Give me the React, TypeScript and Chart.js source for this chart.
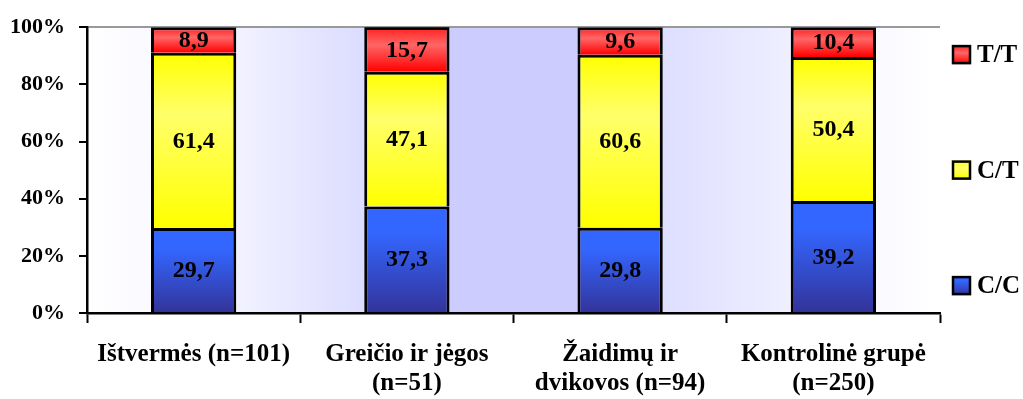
import { useEffect, useRef } from 'react';
import { Chart, registerables } from 'chart.js';

Chart.register(...registerables);

// Groups on the category axis (multi-line labels as arrays)
const categories: (string | string[])[] = [
  'Ištvermės (n=101)',
  ['Greičio ir jėgos', '(n=51)'],
  ['Žaidimų ir', 'dvikovos (n=94)'],
  ['Kontrolinė grupė', '(n=250)'],
];

// Genotype shares, % of each group
const seriesNames = ['C/C', 'C/T', 'T/T'];
const ccValues = [29.7, 37.3, 29.8, 39.2];
const ctValues = [61.4, 47.1, 60.6, 50.4];
const ttValues = [8.9, 15.7, 9.6, 10.4];

// Percentage axis
const yMin = 0;
const yMax = 100;
const yStep = 20;

const FONT = "'Liberation Serif', 'Times New Roman', serif";

type Stop = [number, string];
const seriesStops: Stop[][] = [
  [[0, '#3366FF'], [0.25, '#3366FF'], [1, '#333399']],
  [[0, '#FFFF00'], [0.35, '#FFFF6A'], [1, '#FFFF00']],
  [[0, '#FF1E1E'], [0.4, '#FF6666'], [1, '#FF0000']],
];

const bgStops: Stop[] = [
  [0, '#FFFFFF'],
  [0.08, '#F9F9FF'],
  [0.175, '#F2F2FF'],
  [0.324, '#DCDCFF'],
  [0.42, '#CCCCFF'],
  [0.58, '#CCCCFF'],
  [0.675, '#DEDEFF'],
  [0.824, '#EFEFFF'],
  [0.925, '#FAFAFF'],
  [1, '#FFFFFF'],
];

function vGradient(ctx: CanvasRenderingContext2D, yTop: number, yBottom: number, stops: Stop[]) {
  if (!Number.isFinite(yTop) || !Number.isFinite(yBottom)) return stops[0][1];
  const g = ctx.createLinearGradient(0, yTop, 0, yBottom === yTop ? yTop + 1 : yBottom);
  stops.forEach(([o, c]) => g.addColorStop(o, c));
  return g;
}

const backgroundPlugin = {
  id: 'plotBackground',
  beforeDraw(chart: any) {
    const { ctx, chartArea: a } = chart;
    if (!a) return;
    const g = ctx.createLinearGradient(a.left, 0, a.right, 0);
    bgStops.forEach(([o, c]) => g.addColorStop(o, c));
    ctx.save();
    ctx.fillStyle = g;
    ctx.fillRect(a.left, a.top, a.right - a.left, a.bottom - a.top);
    ctx.restore();
  },
};

const valueLabelPlugin = {
  id: 'valueLabels',
  afterDatasetsDraw(chart: any) {
    const { ctx } = chart;
    ctx.save();
    ctx.font = `bold 24px ${FONT}`;
    ctx.fillStyle = '#000';
    ctx.textAlign = 'center';
    ctx.textBaseline = 'middle';
    chart.data.datasets.forEach((ds: any, di: number) => {
      const meta = chart.getDatasetMeta(di);
      meta.data.forEach((bar: any, i: number) => {
        const v = ds.data[i] as number;
        const y = (bar.y + bar.base) / 2;
        ctx.fillText(v.toFixed(1).replace('.', ','), bar.x, y + 1);
      });
    });
    ctx.restore();
  },
};

const sideLegendPlugin = {
  id: 'sideLegend',
  afterDraw(chart: any) {
    const { ctx, chartArea: a } = chart;
    const mid = (a.top + a.bottom) / 2;
    const step = 115.5;
    const box = 19;
    const x = 952;
    const n = chart.data.datasets.length;
    ctx.save();
    ctx.font = `bold 25px ${FONT}`;
    ctx.textAlign = 'left';
    ctx.textBaseline = 'middle';
    for (let di = n - 1; di >= 0; di--) {
      const row = n - 1 - di;
      const cy = mid + (row - 1) * step;
      const top = cy - box / 2;
      ctx.fillStyle = vGradient(ctx, top, top + box, seriesStops[di]);
      ctx.fillRect(x, top, box, box);
      ctx.lineWidth = 2.5;
      ctx.strokeStyle = '#000';
      ctx.strokeRect(x + 1, top + 1, box - 2, box - 2);
      ctx.fillStyle = '#000';
      ctx.fillText(chart.data.datasets[di].label, x + 25, cy + 1);
    }
    ctx.restore();
  },
};

const seriesValues = [ccValues, ctValues, ttValues];

export default function App() {
  const canvasRef = useRef<HTMLCanvasElement | null>(null);

  useEffect(() => {
    const canvas = canvasRef.current;
    if (!canvas) return;

    const segmentFill = (di: number) => (c: any) => {
      const chart = c.chart;
      const yScale = chart.scales?.y;
      const i = c.dataIndex;
      if (!yScale || i === undefined || !chart.chartArea) return seriesStops[di][0][1];
      let start = 0;
      for (let k = 0; k < di; k++) start += seriesValues[k][i];
      const end = start + seriesValues[di][i];
      const yTop = yScale.getPixelForValue(end);
      const yBottom = yScale.getPixelForValue(start);
      return vGradient(chart.ctx, yTop, yBottom, seriesStops[di]);
    };

    const chart = new Chart(canvas, {
      type: 'bar',
      data: {
        labels: categories as any,
        datasets: seriesNames.map((name, di) => ({
          label: name,
          data: seriesValues[di],
          backgroundColor: segmentFill(di),
          borderColor: '#000',
          borderWidth: 3,
          inflateAmount: 0,
          categoryPercentage: 1,
          barPercentage: 0.4,
        })),
      },
      options: {
        responsive: false,
        animation: false,
        devicePixelRatio: 1,
        layout: { padding: { top: 27, right: 83, left: 0, bottom: 0 } },
        plugins: {
          legend: { display: false },
          tooltip: { enabled: false },
        },
        scales: {
          x: {
            stacked: true,
            offset: true,
            afterFit: (s: any) => {
              s.height = 86;
            },
            grid: {
              offset: true,
              drawOnChartArea: false,
              color: 'rgba(0,0,0,0)',
              tickColor: '#000',
              tickWidth: 2,
              tickLength: 10,
            },
            border: { display: true, color: '#000', width: 2.5 },
            ticks: {
              color: '#000',
              padding: 17,
              maxRotation: 0,
              autoSkip: false,
              font: { family: FONT, size: 25, weight: 'bold', lineHeight: '29px' as any },
            },
          },
          y: {
            stacked: true,
            min: yMin,
            max: yMax,
            afterFit: (s: any) => {
              s.width = 87;
            },
            grid: {
              color: (c: any) => (c.tick && c.tick.value === yMax ? '#999999' : 'rgba(0,0,0,0)'),
              lineWidth: 2,
              tickColor: '#000',
              tickWidth: 2,
              tickLength: 8,
            },
            border: { display: true, color: '#000', width: 2.5 },
            ticks: {
              stepSize: yStep,
              color: '#000',
              padding: 14,
              callback: (v: any) => `${v}%`,
              font: { family: FONT, size: 22, weight: 'bold' },
            },
          },
        },
      },
      plugins: [backgroundPlugin, valueLabelPlugin, sideLegendPlugin],
    });

    return () => chart.destroy();
  }, []);

  return (
    <div style={{ position: 'absolute', left: 0, top: 0, width: 1023, height: 399, background: '#fff' }}>
      <canvas ref={canvasRef} width={1023} height={399} style={{ display: 'block' }} />
    </div>
  );
}
